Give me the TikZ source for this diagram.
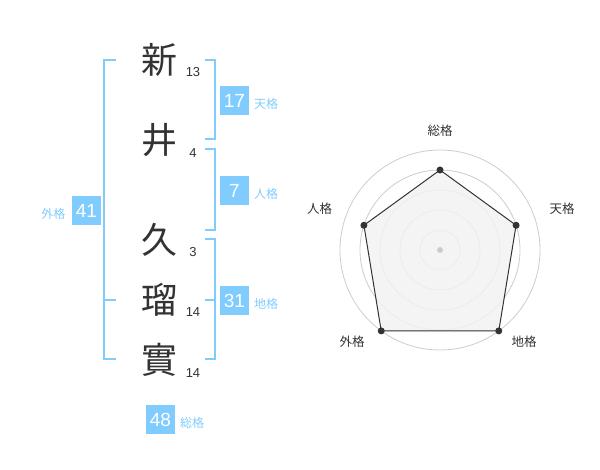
\documentclass[tikz,border=0pt]{standalone}
\usetikzlibrary{calc}
\usepackage{fontspec}
\setmainfont{Liberation Sans}
\newfontfamily\jp{Noto Sans CJK JP}
\definecolor{sky}{HTML}{80CCFF}
\definecolor{ink}{HTML}{333333}
\definecolor{ring}{HTML}{CCCCCC}
\definecolor{area}{HTML}{F2F2F2}
\begin{document}
\begin{tikzpicture}[x=1pt,y=-1pt,
  kanji/.style={font=\jp\fontsize{36}{36}\selectfont,text=ink,inner sep=0pt},
  strokes/.style={font=\fontsize{13}{13}\selectfont,text=ink,inner sep=0pt},
  valbox/.style={fill=sky,text=white,font=\fontsize{19}{19}\selectfont,minimum width=29pt,minimum height=29pt,inner sep=0pt},
  kakulab/.style={font=\jp\fontsize{12}{12}\selectfont,text=sky,inner sep=0pt,anchor=west},
  brk/.style={draw=sky,line width=2pt},
  radlab/.style={font=\jp\fontsize{12.5}{12.5}\selectfont,text=ink,inner sep=0pt},
  dot/.style={circle,fill=ink,inner sep=0pt,minimum size=7pt}]
\useasboundingbox (0,0) rectangle (600,470);
% characters
\node[kanji] (c1) at (159,60) {新};
\node[kanji] (c2) at (159,140) {井};
\node[kanji] (c3) at (159,240) {久};
\node[kanji] (c4) at (159,300) {瑠};
\node[kanji] (c5) at (159,360) {實};
\node[strokes] (s1) at (193,72.5) {13};
\node[strokes] (s2) at (193,153) {4};
\node[strokes] (s3) at (193,252) {3};
\node[strokes] (s4) at (193,312.5) {14};
\node[strokes] (s5) at (193,373) {14};
% brackets
\draw[brk] (116,60) -- (104,60) -- (104,359.5) -- (116,359.5);
\draw[brk] (104,300) -- (116,300);
\draw[brk] (205,60) -- (214.5,60) -- (214.5,139.5) -- (205,139.5);
\draw[brk] (205,149.5) -- (214.5,149.5) -- (214.5,230) -- (205,230);
\draw[brk] (205,239.5) -- (214.5,239.5) -- (214.5,359.5) -- (205,359.5);
\draw[brk] (205,300) -- (214.5,300);
% values
\node[valbox] (ten) at (234.5,100.5) {17};
\node[kakulab] (tenl) at (254,104) {天格};
\node[valbox] (jin) at (234.5,190.5) {7};
\node[kakulab] (jinl) at (254,194) {人格};
\node[valbox] (chi) at (234.5,300.5) {31};
\node[kakulab] (chil) at (254,304) {地格};
\node[valbox] (gai) at (86.5,210.5) {41};
\node[kakulab,anchor=east] (gail) at (65.5,213.5) {外格};
\node[valbox] (sou) at (160.5,419.5) {48};
\node[kakulab] (soul) at (180,422.5) {総格};
% radar
\coordinate (O) at (440,250);
\foreach \r in {20,40,60,80,100} \draw[ring,line width=0.8pt] (O) circle[radius=\r];
\coordinate (pS) at ($(O)+(-90:80)$);
\coordinate (pT) at ($(O)+(-18:80)$);
\coordinate (pC) at ($(O)+(54:100)$);
\coordinate (pG) at ($(O)+(126:100)$);
\coordinate (pJ) at ($(O)+(-162:80)$);
\path[fill=area,fill opacity=0.85,draw=ink,line width=1pt]
  (pS) -- (pT) -- (pC) -- (pG) -- (pJ) -- cycle;
\foreach \p in {pS,pT,pC,pG,pJ} \node[dot] at (\p) {};
\node[circle,fill=ring,inner sep=0pt,minimum size=6pt] (ctr) at (O) {};
\node[radlab] (lS) at (440,130.5) {総格};
\node[radlab] (lT) at (562,208.5) {天格};
\node[radlab] (lJ) at (319.5,208.5) {人格};
\node[radlab] (lG) at (352,341.5) {外格};
\node[radlab] (lC) at (524,341.5) {地格};
\end{tikzpicture}
\end{document}
